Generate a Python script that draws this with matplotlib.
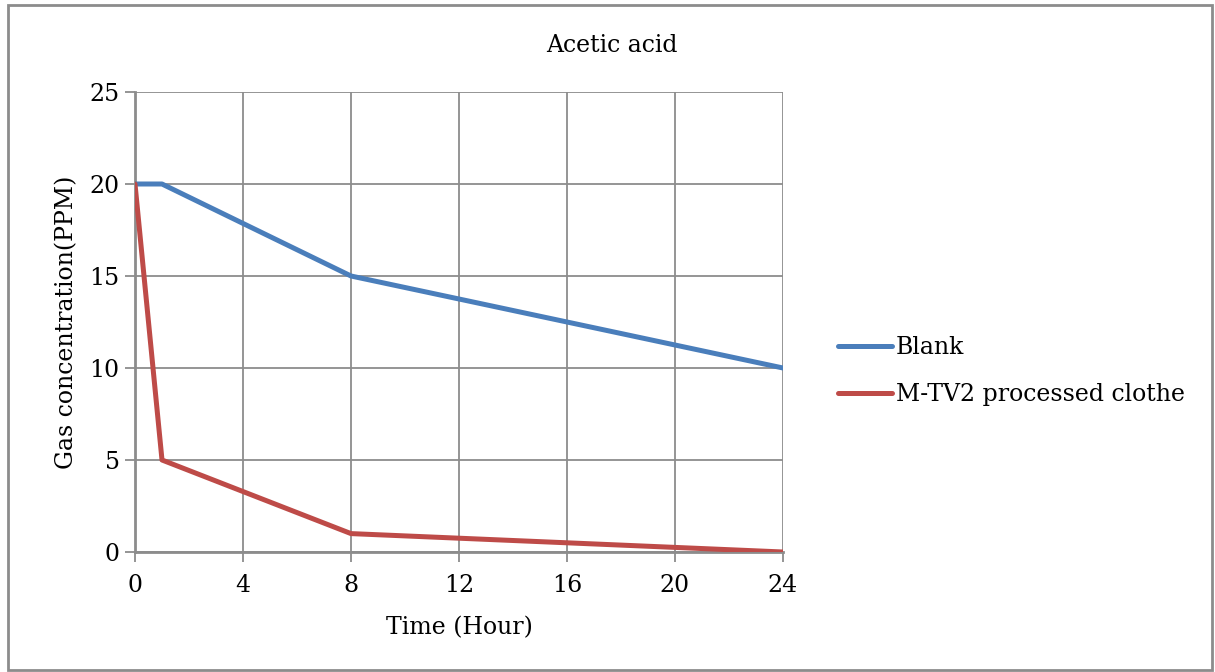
import matplotlib
matplotlib.use('Agg')
import matplotlib.pyplot as plt
from matplotlib.patches import Rectangle

# data
hours = [0, 1, 8, 24]
blank = [20, 20, 15, 10]
mtv2 = [20, 5, 1, 0]
x_ticks = [0, 4, 8, 12, 16, 20, 24]
y_ticks = [0, 5, 10, 15, 20, 25]

plt.rcParams['font.family'] = ['DejaVu Serif']
fs = 17

fig = plt.figure(figsize=(12.15, 6.72), dpi=100)
ax = fig.add_axes([135 / 1215, 1 - 552 / 672, (783 - 135) / 1215, (552 - 92) / 672])

grid_c = '#8c8c8c'
ax.plot(hours, blank, color='#4a7ebb', lw=3.6, label='Blank', solid_capstyle='round', zorder=3)
ax.plot(hours, mtv2, color='#be4b48', lw=3.6, label='M-TV2 processed clothe', solid_capstyle='round', zorder=3)

ax.set_xlim(0, 24)
ax.set_ylim(0, 25)
ax.set_xticks(x_ticks)
ax.set_yticks(y_ticks)
ax.grid(True, color=grid_c, lw=1.3)
ax.set_axisbelow(True)
for s in ['top', 'right']:
    ax.spines[s].set_visible(False)
for s in ['left', 'bottom']:
    ax.spines[s].set_color(grid_c)
    ax.spines[s].set_linewidth(2)
ax.tick_params(colors=grid_c, labelcolor='black', labelsize=fs, length=7, width=1.3)
ax.tick_params(axis='x', pad=9)
ax.tick_params(axis='y', pad=4)

fig.text(612 / 1215, 1 - 45 / 672, 'Acetic acid', fontsize=fs, ha='center', va='center')
ax.set_xlabel('Time (Hour)', fontsize=fs, labelpad=14)
ax.set_ylabel('Gas concentration(PPM)', fontsize=fs, labelpad=8)

leg = ax.legend(loc='center left', bbox_to_anchor=(838 / 1215, 1 - 371 / 672),
                bbox_transform=fig.transFigure, frameon=False, fontsize=fs,
                handlelength=2.3, handletextpad=0.15, labelspacing=1.0,
                borderpad=0, borderaxespad=0)

fig.patches.append(Rectangle((8 / 1215, 2 / 672), 1204 / 1215, 665 / 672,
                             transform=fig.transFigure, fill=False,
                             edgecolor='#8c8c8c', lw=2))

fig.savefig('out.png', dpi=100)
